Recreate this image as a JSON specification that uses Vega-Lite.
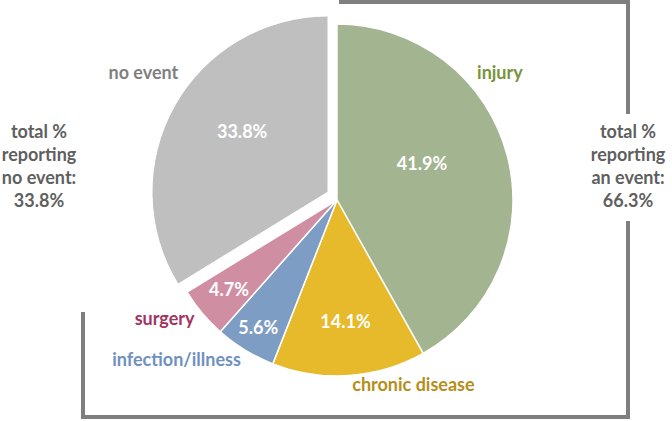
{
  "$schema": "https://vega.github.io/schema/vega-lite/v6.json",
  "width": 672,
  "height": 421,
  "autosize": {"type": "none"},
  "padding": 0,
  "background": "white",
  "config": {"view": {"stroke": null}},
  "datasets": {
    "slices": [
      {"category": "injury", "pct": 41.9, "label": "41.9%", "order": 1},
      {"category": "chronic disease", "pct": 14.1, "label": "14.1%", "order": 2},
      {"category": "infection/illness", "pct": 5.6, "label": "5.6%", "order": 3},
      {"category": "surgery", "pct": 4.7, "label": "4.7%", "order": 4},
      {"category": "no event", "pct": 33.8, "label": "33.8%", "order": 5}
    ],
    "sides": [
      {"side": "left", "text": "total %\nreporting\nno event:\n33.8%"},
      {"side": "right", "text": "total %\nreporting\nan event:\n66.3%"}
    ]
  },
  "layer": [
    {
      "data": {"name": "slices"},
      "encoding": {
        "theta": {"field": "pct", "type": "quantitative", "stack": true},
        "order": {"field": "order", "type": "quantitative"},
        "detail": {"field": "category", "type": "nominal"}
      },
      "layer": [
        {
          "mark": {"type": "arc", "outerRadius": 176, "xOffset": 1, "yOffset": -10.5, "stroke": "white", "strokeWidth": 1.5},
          "encoding": {
            "color": {"field": "category", "type": "nominal", "legend": null,
              "scale": {"domain": ["injury", "chronic disease", "infection/illness", "surgery", "no event"],
                        "range": ["#A3B491", "#E6BA2A", "#7E9DC4", "#D08EA2", "#BFBFBF"]}},
            "opacity": {"condition": {"test": "datum.category === 'no event'", "value": 0}, "value": 1}
          }
        },
        {
          "mark": {"type": "arc", "outerRadius": 176, "xOffset": -8, "yOffset": -18.5, "stroke": "white", "strokeWidth": 1},
          "encoding": {
            "color": {"field": "category", "type": "nominal", "legend": null},
            "opacity": {"condition": {"test": "datum.category === 'no event'", "value": 1}, "value": 0}
          }
        },
        {
          "mark": {"type": "text", "radius": 92, "thetaOffset": -0.136, "xOffset": 1, "yOffset": -10.5, "font": "Lato", "fontWeight": "bold", "fontSize": 18, "fill": "white", "align": "center", "baseline": "middle"},
          "encoding": {"text": {"condition": {"test": "datum.category === 'injury'", "field": "label"}, "value": ""}}
        },
        {
          "mark": {"type": "text", "radius": 123, "xOffset": 1, "yOffset": -10.5, "font": "Lato", "fontWeight": "bold", "fontSize": 18, "fill": "white", "align": "center", "baseline": "middle"},
          "encoding": {"text": {"condition": {"test": "datum.category === 'chronic disease'", "field": "label"}, "value": ""}}
        },
        {
          "mark": {"type": "text", "radius": 151, "xOffset": 1, "yOffset": -10.5, "font": "Lato", "fontWeight": "bold", "fontSize": 18, "fill": "white", "align": "center", "baseline": "middle"},
          "encoding": {"text": {"condition": {"test": "datum.category === 'infection/illness'", "field": "label"}, "value": ""}}
        },
        {
          "mark": {"type": "text", "radius": 141, "xOffset": 1, "yOffset": -10.5, "font": "Lato", "fontWeight": "bold", "fontSize": 18, "fill": "white", "align": "center", "baseline": "middle"},
          "encoding": {"text": {"condition": {"test": "datum.category === 'surgery'", "field": "label"}, "value": ""}}
        },
        {
          "mark": {"type": "text", "radius": 104, "thetaOffset": 0.09, "xOffset": -8, "yOffset": -18.5, "font": "Lato", "fontWeight": "bold", "fontSize": 18, "fill": "white", "align": "center", "baseline": "middle"},
          "encoding": {"text": {"condition": {"test": "datum.category === 'no event'", "field": "label"}, "value": ""}}
        },
        {
          "mark": {"type": "text", "radius": 206, "thetaOffset": -0.403, "xOffset": 1, "yOffset": -10.5, "font": "Lato", "fontWeight": "bold", "fontSize": 18, "fill": "#77933C", "align": "center", "baseline": "middle"},
          "encoding": {"text": {"condition": {"test": "datum.category === 'injury'", "field": "category"}, "value": ""}}
        },
        {
          "mark": {"type": "text", "radius": 201, "thetaOffset": -0.321, "xOffset": 1, "yOffset": -10.5, "font": "Lato", "fontWeight": "bold", "fontSize": 18, "fill": "#B58E1A", "align": "center", "baseline": "middle"},
          "encoding": {"text": {"condition": {"test": "datum.category === 'chronic disease'", "field": "category"}, "value": ""}}
        },
        {
          "mark": {"type": "text", "radius": 227, "thetaOffset": 0.236, "xOffset": 1, "yOffset": -10.5, "font": "Lato", "fontWeight": "bold", "fontSize": 18, "fill": "#6F90C0", "align": "center", "baseline": "middle"},
          "encoding": {"text": {"condition": {"test": "datum.category === 'infection/illness'", "field": "category"}, "value": ""}}
        },
        {
          "mark": {"type": "text", "radius": 210, "thetaOffset": 0.091, "xOffset": 1, "yOffset": -10.5, "font": "Lato", "fontWeight": "bold", "fontSize": 18, "fill": "#A3345F", "align": "center", "baseline": "middle"},
          "encoding": {"text": {"condition": {"test": "datum.category === 'surgery'", "field": "category"}, "value": ""}}
        },
        {
          "mark": {"type": "text", "radius": 219, "thetaOffset": 0.058, "xOffset": -8, "yOffset": -18.5, "font": "Lato", "fontWeight": "bold", "fontSize": 18, "fill": "#7F7F7F", "align": "center", "baseline": "middle"},
          "encoding": {"text": {"condition": {"test": "datum.category === 'no event'", "field": "category"}, "value": ""}}
        }
      ]
    },
    {
      "data": {"name": "sides"},
      "transform": [{"filter": "datum.side === 'left'"}],
      "mark": {"type": "text", "font": "Lato", "fontWeight": "bold", "fontSize": 18, "fill": "#5F5F5F", "align": "center", "baseline": "middle", "lineBreak": "\n", "lineHeight": 23},
      "encoding": {
        "x": {"datum": 39, "type": "quantitative", "scale": {"domain": [0, 672], "nice": false, "zero": false}, "axis": null},
        "y": {"datum": 133, "type": "quantitative", "scale": {"domain": [0, 421], "nice": false, "zero": false, "reverse": true}, "axis": null},
        "text": {"field": "text"}
      }
    },
    {
      "data": {"name": "sides"},
      "transform": [{"filter": "datum.side === 'right'"}],
      "mark": {"type": "text", "font": "Lato", "fontWeight": "bold", "fontSize": 18, "fill": "#5F5F5F", "align": "center", "baseline": "middle", "lineBreak": "\n", "lineHeight": 23},
      "encoding": {
        "x": {"datum": 628, "type": "quantitative"},
        "y": {"datum": 133, "type": "quantitative"},
        "text": {"field": "text"}
      }
    },
    {
      "data": {"values": [{}]},
      "mark": {"type": "rule", "stroke": "#7F7F7F", "strokeWidth": 4, "strokeCap": "square"},
      "encoding": {"x": {"datum": 341, "type": "quantitative"}, "x2": {"datum": 628}, "y": {"datum": 2, "type": "quantitative"}}
    },
    {
      "data": {"values": [{}]},
      "mark": {"type": "rule", "stroke": "#7F7F7F", "strokeWidth": 4, "strokeCap": "square"},
      "encoding": {"x": {"datum": 628, "type": "quantitative"}, "y": {"datum": 2, "type": "quantitative"}, "y2": {"datum": 112}}
    },
    {
      "data": {"values": [{}]},
      "mark": {"type": "rule", "stroke": "#7F7F7F", "strokeWidth": 4, "strokeCap": "square"},
      "encoding": {"x": {"datum": 628, "type": "quantitative"}, "y": {"datum": 223, "type": "quantitative"}, "y2": {"datum": 417}}
    },
    {
      "data": {"values": [{}]},
      "mark": {"type": "rule", "stroke": "#7F7F7F", "strokeWidth": 4, "strokeCap": "square"},
      "encoding": {"x": {"datum": 83, "type": "quantitative"}, "x2": {"datum": 628}, "y": {"datum": 417, "type": "quantitative"}}
    },
    {
      "data": {"values": [{}]},
      "mark": {"type": "rule", "stroke": "#7F7F7F", "strokeWidth": 4, "strokeCap": "square"},
      "encoding": {"x": {"datum": 83, "type": "quantitative"}, "y": {"datum": 314, "type": "quantitative"}, "y2": {"datum": 417}}
    }
  ]
}
